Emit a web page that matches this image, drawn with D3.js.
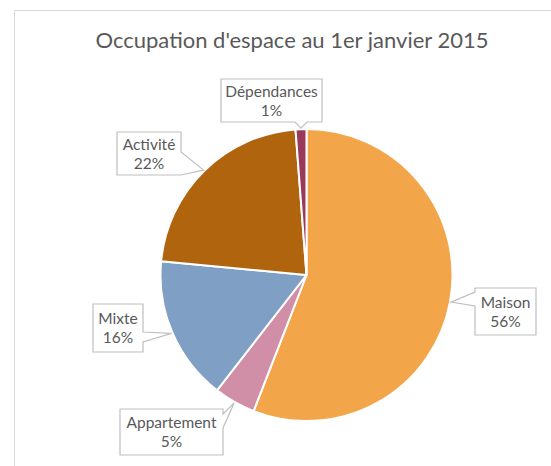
<!DOCTYPE html>
<html><head><meta charset="utf-8">
<script src="https://cdn.jsdelivr.net/npm/d3@7"></script>
<style>body{margin:0;background:#fff;}svg{display:block;}</style>
</head><body>
<svg id="c" width="551" height="466"></svg>
<script>
// ---- data ----
const categories = ["Maison", "Appartement", "Mixte", "Activité", "Dépendances"];
const values = [55.9, 4.6, 16.0, 22.3, 1.2];
const pctLabels = ["56%", "5%", "16%", "22%", "1%"];
const colors = ["#F3A549", "#D18FA7", "#7F9FC4", "#B0640E", "#9A3A5B"];
const title = "Occupation d'espace au 1er janvier 2015";

// ---- layout (callout boxes) ----
const boxes = [
  {x0:475, y0:288, x1:536, y1:335, side:"left",  b0:292, b1:306},
  {x0:120, y0:409, x1:223, y1:455, side:"right", b0:414, b1:428},
  {x0:93,  y0:304, x1:143, y1:352, side:"right", b0:332, b1:342},
  {x0:117, y0:132, x1:181, y1:175, side:"right", b0:152, b1:175},
  {x0:221, y0:79,  x1:322, y1:122, side:"bottom",b0:295, b1:307}
];

const svg = d3.select("#c");
const font = "Lato, 'Open Sans', 'Liberation Sans', sans-serif";

// chart frame
svg.append("rect").attr("x",14.5).attr("y",10.5).attr("width",560).attr("height",480)
  .attr("fill","#fff").attr("stroke","#d9d9d9").attr("stroke-width",1);

svg.append("text").attr("x",292).attr("y",48).attr("text-anchor","middle")
  .attr("font-family",font).attr("font-size",22).attr("fill","#595959").text(title);

const cx = 306.5, cy = 275, r = 146;
const pie = d3.pie().sort(null).value(d => d)(values);
const arc = d3.arc().innerRadius(0).outerRadius(r);
const g = svg.append("g").attr("transform",`translate(${cx},${cy})`);
g.selectAll("path").data(pie).enter().append("path")
  .attr("d",arc).attr("fill",(d,i)=>colors[i])
  .attr("stroke","#fff").attr("stroke-width",2).attr("stroke-linejoin","round");

const tipArc = d3.arc().innerRadius(r+1).outerRadius(r+1);
pie.forEach((d,i) => {
  const b = boxes[i];
  const c = tipArc.centroid(d);
  const tx = cx + c[0], ty = cy + c[1];
  let pts;
  if (b.side === "left") {
    pts = [[b.x0,b.y0],[b.x1,b.y0],[b.x1,b.y1],[b.x0,b.y1],[b.x0,b.b1],[tx,ty],[b.x0,b.b0]];
  } else if (b.side === "right") {
    pts = [[b.x0,b.y0],[b.x1,b.y0],[b.x1,b.b0],[tx,ty],[b.x1,b.b1],[b.x1,b.y1],[b.x0,b.y1]];
  } else {
    pts = [[b.x0,b.y0],[b.x1,b.y0],[b.x1,b.y1],[b.b1,b.y1],[tx,ty],[b.b0,b.y1],[b.x0,b.y1]];
  }
  svg.append("path").attr("d", d3.line()(pts) + "Z")
    .attr("fill","#fff").attr("stroke","#bfbfbf").attr("stroke-width",1.2)
    .attr("stroke-linejoin","miter");
  const mx = (b.x0+b.x1)/2, my = (b.y0+b.y1)/2;
  const t = svg.append("text").attr("text-anchor","middle").attr("font-family",font)
    .attr("font-size",15.5).attr("fill","#595959");
  t.append("tspan").attr("x",mx).attr("y",my-4).text(categories[i]);
  t.append("tspan").attr("x",mx).attr("y",my+15).text(pctLabels[i]);
});
</script>
</body></html>
